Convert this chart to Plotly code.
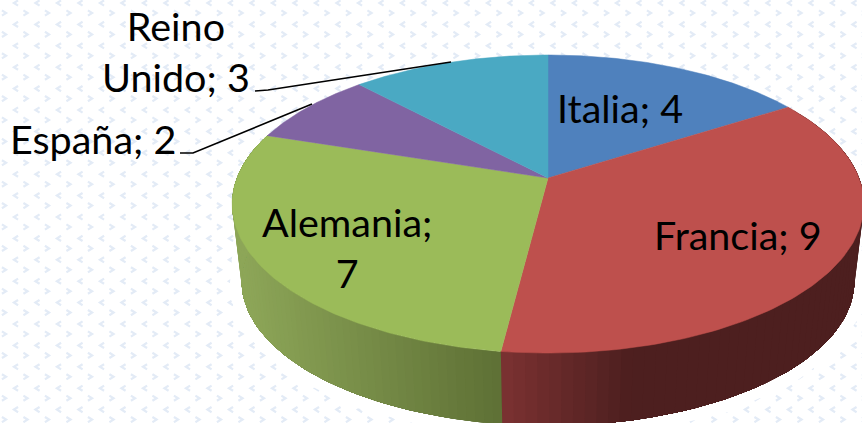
import numpy as np
import plotly.graph_objects as go

categories = ["Italia", "Francia", "Alemania", "España", "Reino Unido"]
values = [4, 9, 7, 2, 3]
top_colors = ["#4f81bd", "#be504d", "#9bbb59", "#8064a2", "#4aa9c3"]
label_text = ["Italia; 4", "Francia; 9", "Alemania;<br>7", "España; 2", "Reino<br>Unido; 3"]
label_x = [620, 738, 347, 93, 176]
label_y = [107, 234, 247, 138, 51]
leader_x = [[255, 268, 451], [180, 193, 312]]
leader_y = [[91, 90, 62], [153, 153, 104]]

W, H = 862, 423
APEX = (548.0, 178.0)
K = 0.1746
FX, FY = 311.0, 144.5
BASE_SCALE, BASE_DROP = 0.97, 78.0


def project(theta, scale=1.0, drop=0.0):
    X, Y = np.sin(theta), np.cos(theta)
    w = 1 + K * Y
    return APEX[0] + scale * FX * X / w, APEX[1] + drop + scale * FY * Y * -1 / w


def lerp_hex(a, b, t):
    t = float(np.clip(t, 0, 1))
    ca = [int(a[i:i + 2], 16) for i in (1, 3, 5)]
    cb = [int(b[i:i + 2], 16) for i in (1, 3, 5)]
    return "rgb(%d,%d,%d)" % tuple(round(p + (q - p) * t) for p, q in zip(ca, cb))


fig = go.Figure()

# background pattern of small chevrons
bx, by = [], []
r = 2.6
for j in range(-1, 22):
    for i in range(-1, 42):
        x, y = 16 + i * 21.5, 3 + j * 21.4
        bx += [x + r * 0.8, x - r * 0.8, x + r * 0.8, None]
        by += [y - r, y, y + r, None]
        x, y = 4 + i * 21.5, 13 + j * 21.4
        bx += [x - r * 0.8, x + r * 0.8, x - r * 0.8, None]
        by += [y - r, y, y + r, None]
fig.add_trace(go.Scatter(x=bx, y=by, mode="lines", line=dict(color="#e3ebf6", width=2.2),
                         hoverinfo="skip", showlegend=False))

fractions = np.cumsum([0] + values) / sum(values)
angles = fractions * 2 * np.pi

# white glow under the pie that hides the pattern
glow_th = np.linspace(angles[1] - 0.1, angles[3] + 0.1, 200)
gx, gy = project(glow_th, BASE_SCALE, BASE_DROP)
fig.add_trace(go.Scatter(x=gx, y=gy, mode="lines", line=dict(color="#ffffff", width=26),
                         hoverinfo="skip", showlegend=False))

# side wall of the two front wedges, shaded by horizontal position
side_ramp = {
    1: ("#7a3131", "#4d1f1f", 505, 630),
    2: ("#8da658", "#5e7035", 240, 500),
}
for idx, (c0, c1, x0, x1) in side_ramp.items():
    a0, a1 = angles[idx], angles[idx + 1]
    n = 70
    edges = np.linspace(a0, a1, n + 1)
    step = edges[1] - edges[0]
    for s in range(n):
        # each strip runs to the wedge's far end so no seam is left between strips
        th = np.r_[edges[s], np.linspace(edges[s] + step, a1, max(2, n - s))]
        tx, ty = project(th)
        ux, uy = project(th[::-1], BASE_SCALE, BASE_DROP)
        mx = project(edges[s] + step / 2)[0]
        color = lerp_hex(c0, c1, (mx - x0) / (x1 - x0))
        fig.add_trace(go.Scatter(
            x=np.r_[tx, ux], y=np.r_[ty, uy], mode="lines", fill="toself",
            fillcolor=color, line=dict(width=0),
            hoverinfo="skip", showlegend=False))

# top face
for i, cat in enumerate(categories):
    th = np.linspace(angles[i], angles[i + 1], 120)
    px, py = project(th)
    fig.add_trace(go.Scatter(
        x=np.r_[APEX[0], px, APEX[0]], y=np.r_[APEX[1], py, APEX[1]],
        mode="lines", fill="toself", fillcolor=top_colors[i],
        line=dict(color=top_colors[i], width=0.5), name=cat,
        hoverinfo="name", showlegend=False))

# leader lines
for lx, ly in zip(leader_x, leader_y):
    fig.add_trace(go.Scatter(x=lx, y=ly, mode="lines", line=dict(color="#000000", width=1.6),
                             hoverinfo="skip", showlegend=False))

for t, x, y in zip(label_text, label_x, label_y):
    fig.add_annotation(x=x, y=y, text=t, showarrow=False, xanchor="center", yanchor="middle",
                       align="center", font=dict(family="Lato, Carlito, sans-serif", size=39.5, color="#000000"))

fig.update_layout(
    width=W, height=H, margin=dict(l=0, r=0, t=0, b=0),
    paper_bgcolor="#ffffff", plot_bgcolor="#ffffff", showlegend=False,
    xaxis=dict(range=[0, W], visible=False, fixedrange=True),
    yaxis=dict(range=[H, 0], visible=False, fixedrange=True),
)
fig.write_html("out.html", config={"displayModeBar": False},
               post_script="document.body.style.margin='0';document.body.style.overflow='hidden';")
